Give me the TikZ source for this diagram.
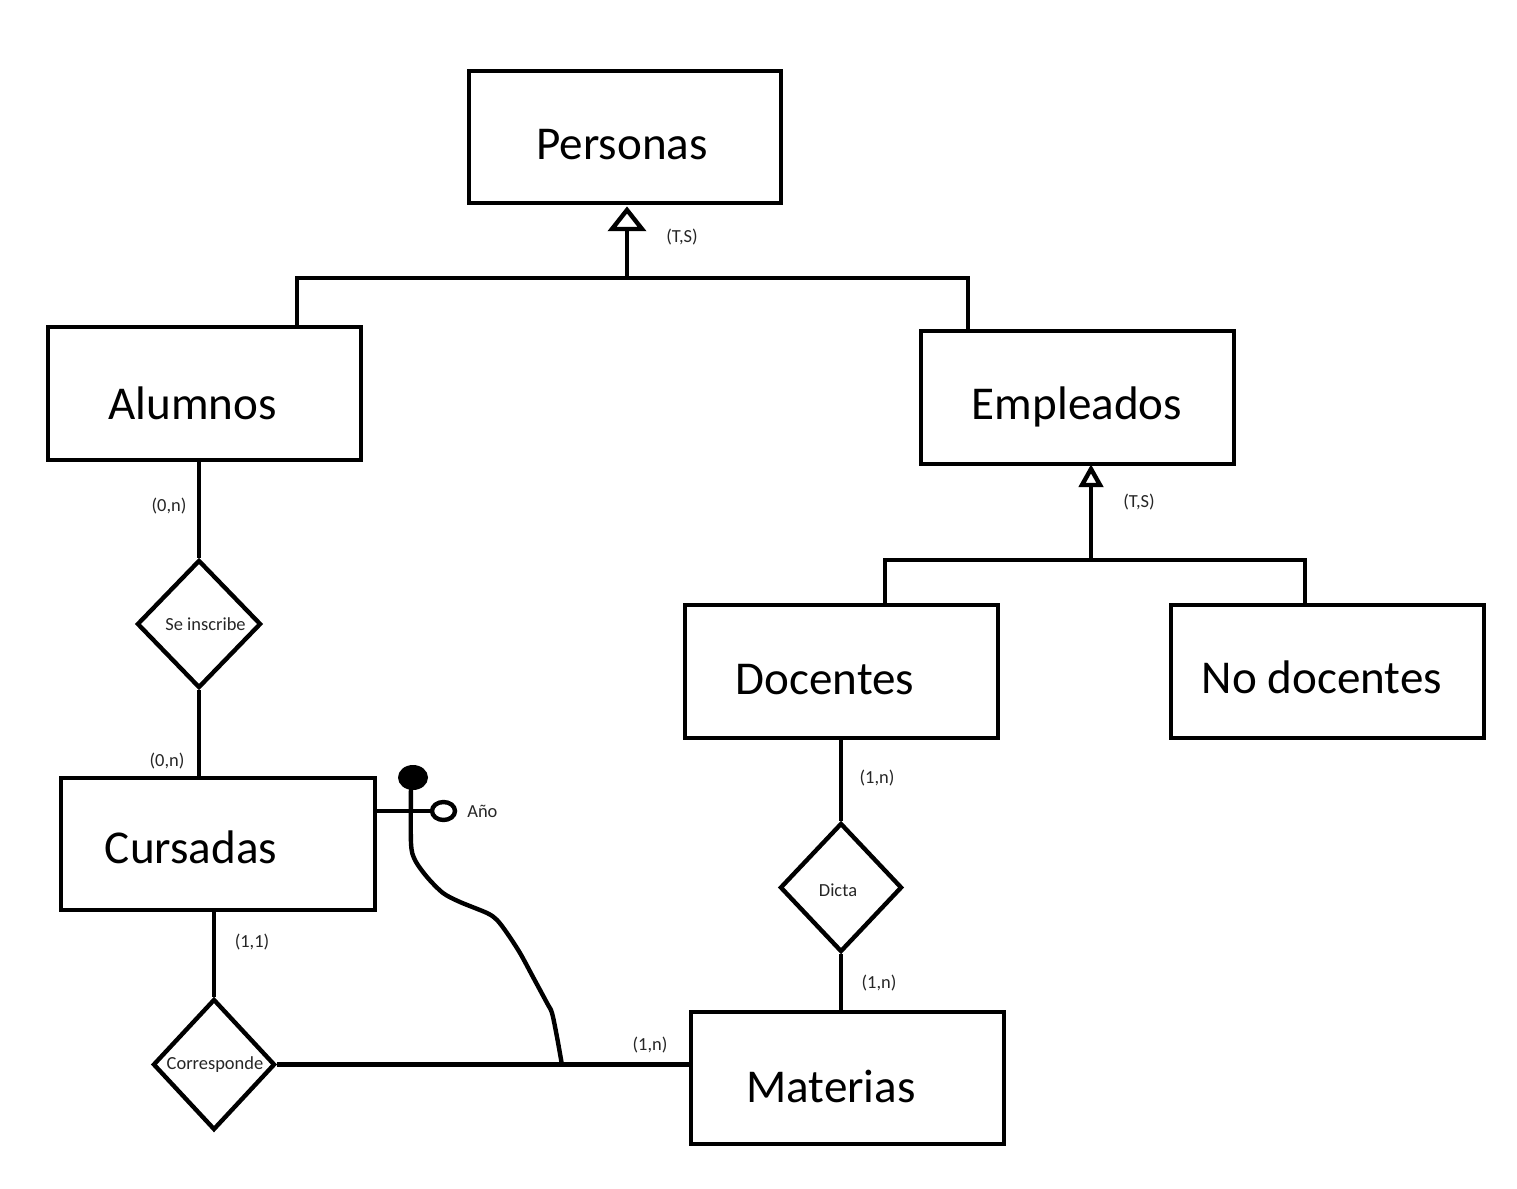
\documentclass[tikz,border=0pt]{standalone}
\usepackage{fontspec}
\setmainfont{Carlito}
\usetikzlibrary{shapes.geometric}
\begin{document}
\begin{tikzpicture}[x=0.02cm,y=-0.02cm,
  ln/.style={line width=2.5pt},
  ent/.style={draw,line width=2.5pt,rectangle,inner sep=0pt,minimum width=6.26cm,minimum height=2.65cm},
  rel/.style={draw,line width=2.5pt,diamond,inner sep=0pt,line join=miter},
  bigtxt/.style={font=\fontsize{26.8pt}{30pt}\selectfont,anchor=base,inner sep=0pt},
  smalltxt/.style={font=\fontsize{10.5pt}{12pt}\selectfont,inner sep=0pt,text=black!85},
  tri/.style={line width=2.5pt,fill=white,line join=miter}
]
\useasboundingbox (0,0) rectangle (1517,1189);

% entities
\node[ent,minimum width=6.24cm,minimum height=2.64cm] (personas) at (625,137) {};
\node[ent] (alumnos) at (204.5,393.5) {};
\node[ent] (empleados) at (1077.5,397.5) {};
\node[ent] (docentes) at (841.5,671.5) {};
\node[ent] (nodocentes) at (1327.5,671.5) {};
\node[ent,minimum width=6.28cm,minimum height=2.64cm] (cursadas) at (218,844) {};
\node[ent,minimum height=2.64cm] (materias) at (847.5,1078) {};

\node[bigtxt] (tpersonas) at (622,160) {Personas};
\node[bigtxt] (talumnos) at (192.5,419) {Alumnos};
\node[bigtxt] (templeados) at (1077,419) {Empleados};
\node[bigtxt] (tdocentes) at (825,694) {Docentes};
\node[bigtxt] (tnodocentes) at (1322,693) {No docentes};
\node[bigtxt] (tcursadas) at (191,863) {Cursadas};
\node[bigtxt] (tmaterias) at (831,1102) {Materias};

% relationships
\node[rel,minimum width=2.48cm,minimum height=2.56cm] (inscribe) at (199,624) {};
\node[rel,minimum width=2.44cm,minimum height=2.62cm] (corresp) at (214,1064.5) {};
\node[rel,minimum width=2.44cm,minimum height=2.58cm] (dicta) at (841,887.5) {};
\node[smalltxt] (tinscribe) at (205.5,624) {Se inscribe};
\node[smalltxt] (tcorresp) at (215,1065) {Corresponde};
\node[smalltxt] (tdicta) at (838,890) {Dicta};

% generalization Personas
\coordinate (ja) at (297,278);
\coordinate (je) at (968,278);
\coordinate (jp) at (627,278);
\coordinate (ap) at (627,210);
\draw[ln] (ja |- alumnos.north) -- (ja) -- (je) -- (je |- empleados.north);
\draw[ln] (jp) -- (627,229);
\draw[tri] (ap) -- ++(-15,19) -- ++(30,0) -- cycle;
\node[smalltxt] (ts1) at (682,237) {(T,S)};

% generalization Empleados
\coordinate (jd) at (885,560);
\coordinate (jn) at (1305,560);
\coordinate (jm) at (1091,560);
\coordinate (am) at (1091,469);
\draw[ln] (jd |- docentes.north) -- (jd) -- (jn) -- (jn |- nodocentes.north);
\draw[ln] (jm) -- (1091,485);
\draw[tri] (am) -- ++(-9,16) -- ++(18,0) -- cycle;
\node[smalltxt] (ts2) at (1139,502) {(T,S)};

% relationship links
\draw[ln] (inscribe.north) -- (inscribe.north |- alumnos.south);
\draw[ln] (inscribe.south) -- (inscribe.south |- cursadas.north);
\draw[ln] (corresp.north) -- (corresp.north |- cursadas.south);
\draw[ln] (corresp.east) -- (corresp.east -| materias.west);
\draw[ln] (dicta.north) -- (dicta.north |- docentes.south);
\draw[ln] (dicta.south) -- (dicta.south |- materias.north);

\node[smalltxt] (c1) at (169,506) {(0,n)};
\node[smalltxt] (c2) at (167,761) {(0,n)};
\node[smalltxt] (c3) at (252,942) {(1,1)};
\node[smalltxt] (c4) at (650,1045) {(1,n)};
\node[smalltxt] (c5) at (877,778) {(1,n)};
\node[smalltxt] (c6) at (879,983) {(1,n)};

% attribute Año
\node[draw,ellipse,line width=2.5pt,fill=white,inner sep=0pt,minimum width=0.46cm,minimum height=0.36cm] (anio) at (443.5,811) {};
\coordinate (ce) at (375,811);
\draw[ln] (ce) -- (anio.west);
\node[smalltxt,anchor=west] (tanio) at (467,811) {Año};

% curve to the composite identifier
\coordinate (cj) at (562,1065);
\node[ellipse,fill=black,inner sep=0pt,minimum width=0.6cm,minimum height=0.5cm] (dot) at (413,777.5) {};
\draw[ln,line join=round] plot[smooth,tension=0.5] coordinates {(411,785) (411,843) (415,860) (427,877) (443,893) (460,902) (487,913) (497,920) (507,933) (520,953) (533,977) (547,1003) (552,1013) (557,1037) (cj)};
\end{tikzpicture}
\end{document}
